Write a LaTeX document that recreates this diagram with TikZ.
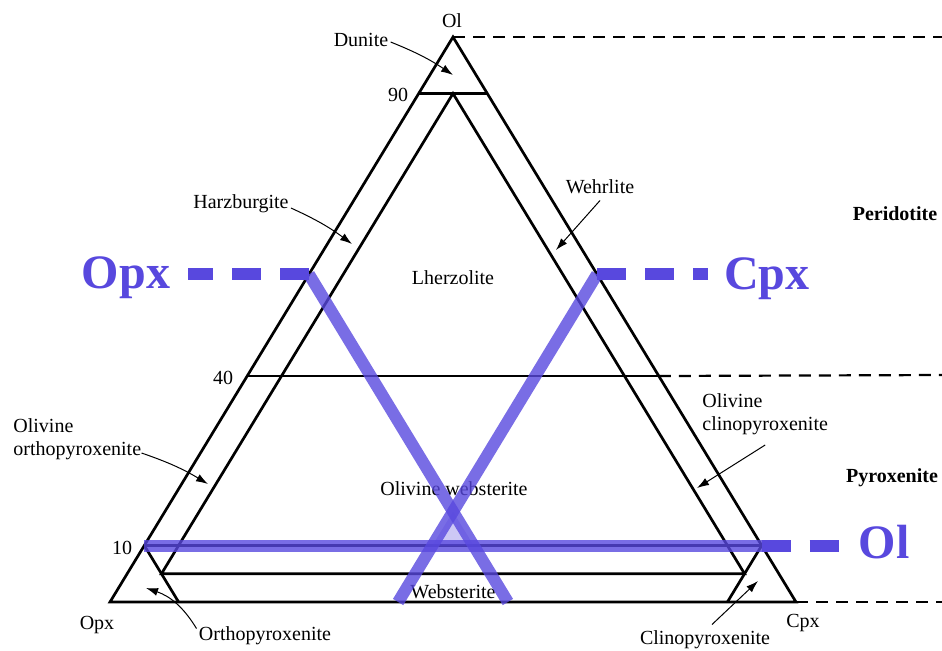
\documentclass[tikz,border=0pt]{standalone}
\usepackage{fontspec}
\setmainfont{Liberation Serif}
\usepackage{xcolor}
\usepackage{tikz}
\usetikzlibrary{positioning}
\usetikzlibrary{calc}
\usetikzlibrary{arrows.meta}

\definecolor{olblue}{RGB}{88,72,222}

\begin{document}
\begin{tikzpicture}[x=0.5pt, y=-0.5pt,
    field/.style={font=\fontsize{10}{11.5}\selectfont, inner sep=0pt},
    rock/.style={font=\fontsize{10}{11.5}\selectfont\bfseries, inner sep=0pt},
    phase/.style={font=\fontsize{24}{26}\selectfont\bfseries, text=olblue, inner sep=0pt},
    edge/.style={line width=1.35pt},
    pointer/.style={line width=0.5pt, -{Latex[length=6pt, width=4pt]}},
    limit/.style={line width=1.1pt, dash pattern=on 6pt off 4pt},
    tie/.style={line width=6pt, olblue, opacity=0.8},
    tiedash/.style={line width=6pt, olblue, dash pattern=on 14.5pt off 9.5pt}]
    \useasboundingbox (0,0) rectangle (942,650);

    % corners of the triangle
    \coordinate (ol) at (453,37);
    \coordinate (opx) at (110,602);
    \coordinate (cpx) at (796,602);

    % field boundaries
    \coordinate (l90) at (barycentric cs:ol=0.9,opx=0.1,cpx=0);
    \coordinate (r90) at (barycentric cs:ol=0.9,opx=0,cpx=0.1);
    \coordinate (m90) at (barycentric cs:ol=0.9,opx=0.05,cpx=0.05);
    \coordinate (l40) at (barycentric cs:ol=0.4,opx=0.6,cpx=0);
    \coordinate (r40) at (barycentric cs:ol=0.4,opx=0,cpx=0.6);
    \coordinate (l10) at (barycentric cs:ol=0.1,opx=0.9,cpx=0);
    \coordinate (r10) at (barycentric cs:ol=0.1,opx=0,cpx=0.9);
    \coordinate (l05) at (barycentric cs:ol=0.05,opx=0.9,cpx=0.05);
    \coordinate (r05) at (barycentric cs:ol=0.05,opx=0.05,cpx=0.9);
    \coordinate (lbase) at (barycentric cs:ol=0,opx=0.9,cpx=0.1);
    \coordinate (rbase) at (barycentric cs:ol=0,opx=0.1,cpx=0.9);

    % tie lines
    \coordinate (opxtop) at (barycentric cs:ol=0.58,opx=0.42,cpx=0);
    \coordinate (opxbot) at (barycentric cs:ol=0,opx=0.42,cpx=0.58);
    \coordinate (cpxtop) at (barycentric cs:ol=0.58,opx=0,cpx=0.42);
    \coordinate (cpxbot) at (barycentric cs:ol=0,opx=0.58,cpx=0.42);
    \coordinate (tritop) at (barycentric cs:ol=0.16,opx=0.42,cpx=0.42);
    \coordinate (trileft) at (barycentric cs:ol=0.1,opx=0.48,cpx=0.42);
    \coordinate (triright) at (barycentric cs:ol=0.1,opx=0.42,cpx=0.48);

    % right hand ends of the dashed lines
    \coordinate (topend) at (942,37);
    \coordinate (midend) at (942,375);
    \coordinate (botend) at (942,602);

    \draw[edge] (ol) -- (opx) -- (cpx) -- cycle;
    \draw[edge] (l90) -- (r90);
    \draw[edge] (m90) -- (l05) -- (r05) -- cycle;
    \draw[edge] (l40) -- (r40);
    \draw[edge] (l10) -- (r10);
    \draw[edge] (l10) -- (lbase);
    \draw[edge] (r10) -- (rbase);

    \draw[limit] (ol) -- (topend);
    \draw[limit] (r40) -- (midend);
    \draw[limit] (cpx) -- (botend);

    % labels
    \node[field] (oltop) at (452,21) {Ol};
    \node[field] (opxcorner) at (97,625) {Opx};
    \node[field] (cpxcorner) at (803,623) {Cpx};
    \node[field] (n90) at (398,95) {90};
    \node[field] (n40) at (223,378) {40};
    \node[field] (n10) at (122,548) {10};

    \node[field] (dunite) at (361,40) {Dunite};
    \node[field] (harz) at (241,204) {Harzburgite};
    \node[field] (wehr) at (600,187) {Wehrlite};
    \node[field] (lherz) at (453,278) {Lherzolite};
    \node[field, align=left, anchor=west] (olopx) at (13,439) {Olivine\\orthopyroxenite};
    \node[field, align=left, anchor=west] (olcpx) at (702,414) {Olivine\\clinopyroxenite};
    \node[field] (olweb) at (454,489) {Olivine websterite};
    \node[field] (web) at (453,592) {Websterite};
    \node[field] (orthopx) at (265,636) {Orthopyroxenite};
    \node[field] (clinopx) at (705,640) {Clinopyroxenite};

    \node[rock] (perid) at (895,214) {Peridotite};
    \node[rock] (pyrox) at (892,478) {Pyroxenite};

    % arrows into the fields
    \coordinate (dunitetip) at (453,75);
    \coordinate (harztip) at (352,244);
    \coordinate (wehrtip) at (556,250);
    \coordinate (olopxtip) at (208,484);
    \coordinate (olcpxtip) at (697,488);
    \coordinate (orthotip) at (146,588);
    \coordinate (clinotip) at (758,581);

    \draw[pointer] ($(dunite.east)+(2,2)$) to[bend left=6] (dunitetip);
    \draw[pointer] ($(harz.east)+(2,4)$) to[bend left=6] (harztip);
    \draw[pointer] ($(wehr.south)+(0,6)$) -- (wehrtip);
    \draw[pointer] (olopx.east |- 0,453) to[bend left=6] (olopxtip);
    \draw[pointer] ($(olcpx.south)+(0,10)$) -- (olcpxtip);
    \draw[pointer] ($(orthopx.north west)+(-2,2)$) to[bend right=20] (orthotip);
    \draw[pointer] ($(clinopx.north)+(7,-6)$) -- (clinotip);

    % blue phase lines
    \node[phase, anchor=base] (opxlab) at (126,288) {Opx};
    \node[phase, anchor=base] (cpxlab) at (767,289) {Cpx};
    \node[phase, anchor=base] (ollab) at (884,558) {Ol};

    \fill[olblue, opacity=0.3] (tritop) -- (trileft) -- (triright) -- cycle;
    \draw[tie] (opxtop) -- (opxbot);
    \draw[tie] (cpxtop) -- (cpxbot);
    \draw[tie] (l10) -- (r10);
    \draw[tiedash, shorten >=9pt] (opxtop) -- (opxtop -| opxlab.east);
    \draw[tiedash, shorten >=8pt] (cpxtop) -- (cpxtop -| cpxlab.west);
    \draw[tiedash, shorten >=8pt] (r10) -- (r10 -| ollab.west);
\end{tikzpicture}
\end{document}
